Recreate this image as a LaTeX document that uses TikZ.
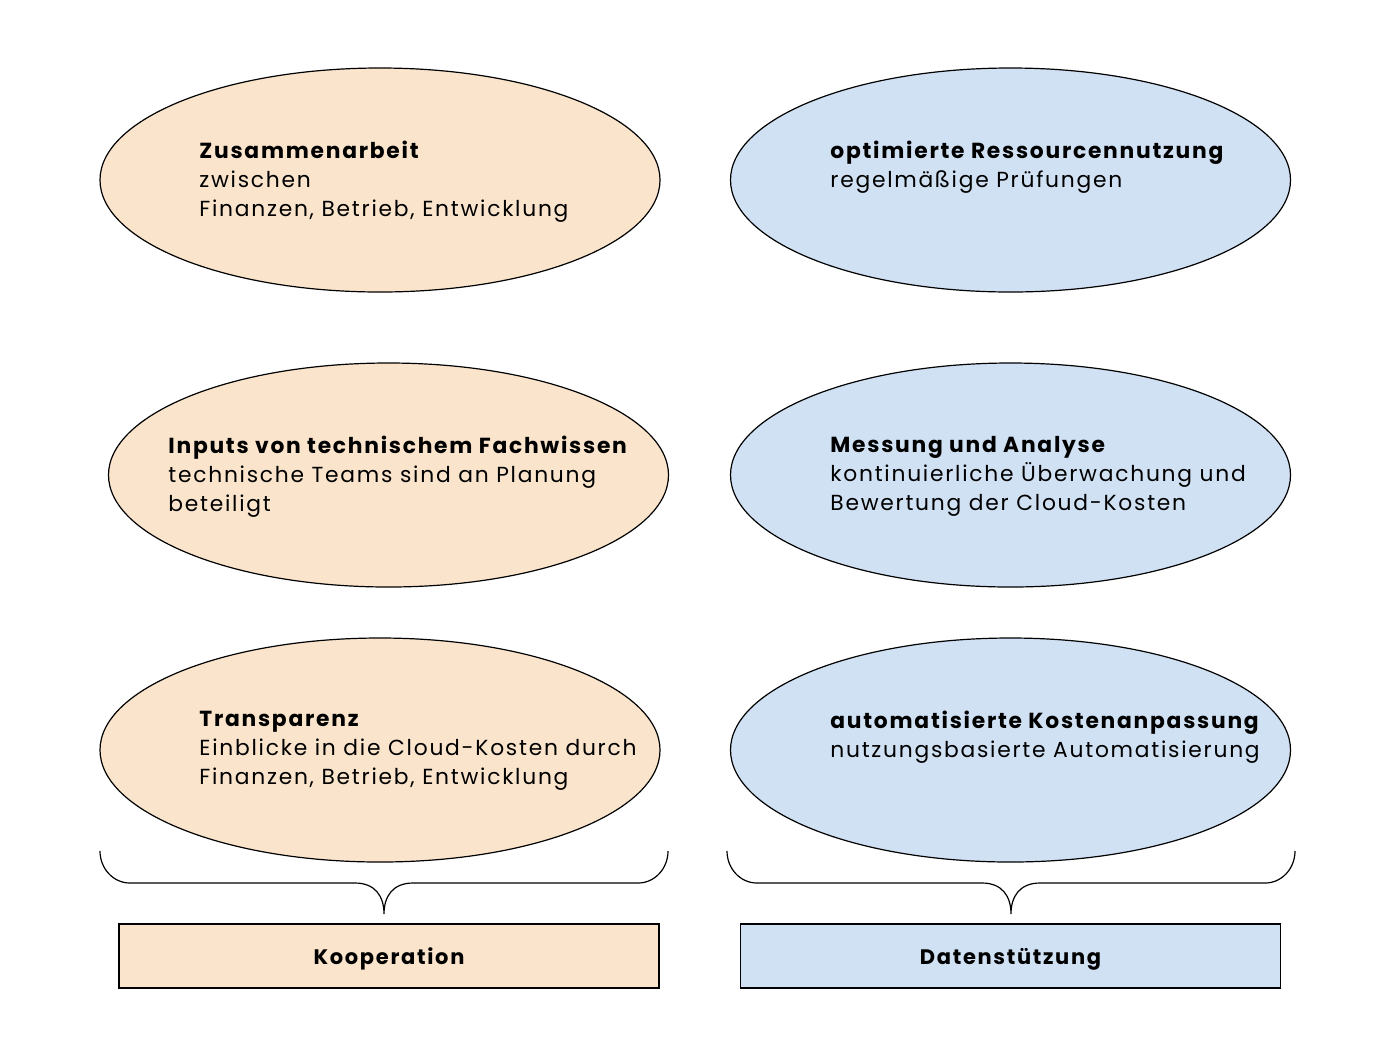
\documentclass[tikz,border=0pt]{standalone}
\usepackage{fontspec}
\setmainfont{Poppins}[LetterSpace=8]
\usetikzlibrary{shapes.geometric}
\definecolor{kopfill}{HTML}{FAE5CC}
\definecolor{datfill}{HTML}{D1E1F4}
\tikzset{
  blob/.style={ellipse, draw, line width=0.6pt, minimum width=280pt, minimum height=112pt, inner sep=0pt},
  kopblob/.style={blob, fill=kopfill},
  datblob/.style={blob, fill=datfill},
  blobtext/.style={anchor=north west, inner sep=0pt, align=left, font=\fontsize{10.9}{14.5}\selectfont},
  sumbox/.style={draw, line width=0.8pt, minimum width=270pt, minimum height=32pt, inner sep=0pt, text depth=0pt, font=\fontsize{10.5}{14.5}\selectfont\bfseries},
  brace/.style={line width=0.6pt}
}
\begin{document}
\begin{tikzpicture}[x=0.5pt, y=-0.5pt]
\useasboundingbox (0,0) rectangle (1390,1040);
\node (zus) [kopblob] at (380,180) {};
\node (inp) [kopblob] at (388.5,475) {};
\node (tra) [kopblob] at (380,750) {};
\node (opt) [datblob] at (1010.5,180) {};
\node (mes) [datblob] at (1010.5,475) {};
\node (aut) [datblob] at (1010.5,750) {};
\node (zustext) [blobtext] at (199,141) {\textbf{Zusammenarbeit}\\
  zwischen\\
  Finanzen, Betrieb, Entwicklung};
\node (inptext) [blobtext] at (168,436) {\textbf{Inputs von technischem Fachwissen}\\
  technische Teams sind an Planung\\
  beteiligt};
\node (tratext) [blobtext] at (199,711) {\textbf{Transparenz}\\
  Einblicke in die Cloud-Kosten durch\\
  Finanzen, Betrieb, Entwicklung};
\node (opttext) [blobtext] at (830,141) {\textbf{optimierte Ressourcennutzung}\\
  regelmäßige Prüfungen};
\node (mestext) [blobtext] at (830,436) {\textbf{Messung und Analyse}\\
  kontinuierliche Überwachung und\\
  Bewertung der Cloud-Kosten};
\node (auttext) [blobtext] at (830,711) {\textbf{automatisierte Kostenanpassung}\\
  nutzungsbasierte Automatisierung};
\draw [brace] (100,851) to[out=-90,in=180] (130,883) -- (355,883)
  .. controls (375,883) and (384,896) .. (384,914)
  .. controls (384,896) and (393,883) .. (413,883) -- (638,883) to[out=0,in=-90] (668,851);
\draw [brace] (727,851) to[out=-90,in=180] (757,883) -- (982,883)
  .. controls (1002,883) and (1011,896) .. (1011,914)
  .. controls (1011,896) and (1020,883) .. (1040,883) -- (1265,883) to[out=0,in=-90] (1295,851);
\node (kop) [sumbox, fill=kopfill] at (389,956) {Kooperation};
\node (dat) [sumbox, fill=datfill] at (1010.5,956) {Datenstützung};
\end{tikzpicture}
\end{document}
